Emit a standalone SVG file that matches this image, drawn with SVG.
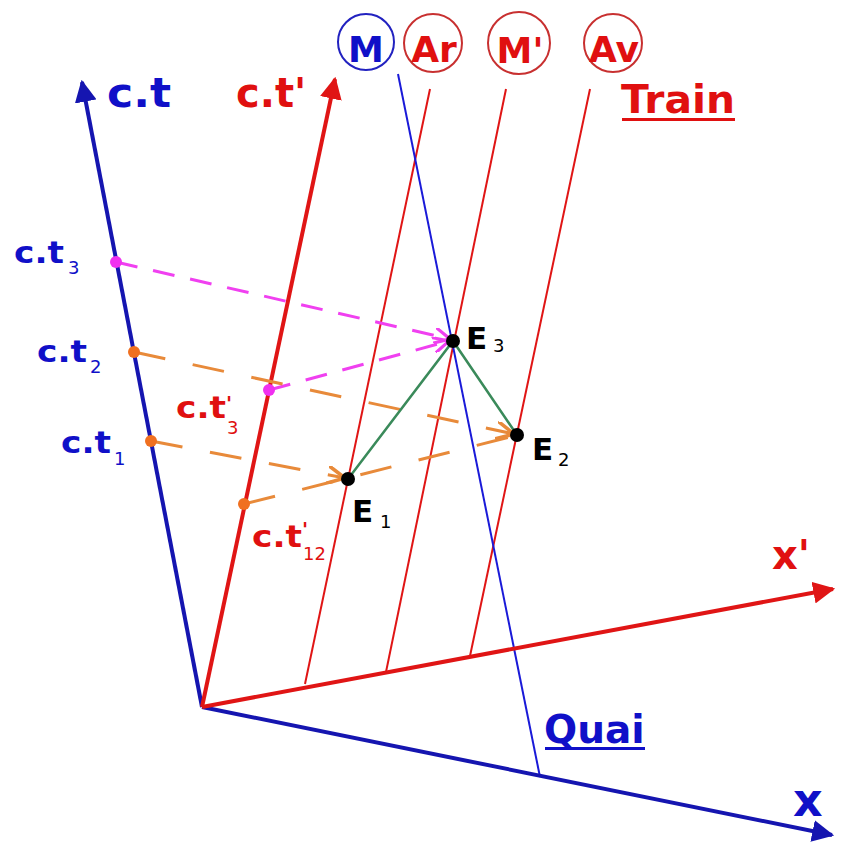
<svg xmlns="http://www.w3.org/2000/svg" width="841" height="846" viewBox="0 0 841 846">
<defs>
<style>
.lbl{font-family:"DejaVu Sans","Verdana",sans-serif;font-weight:bold}
.sub{font-family:"DejaVu Sans","Verdana",sans-serif;font-weight:normal}
.blue{fill:#1010c8}
.red{fill:#e01010}
.blk{fill:#000}
.axb{stroke:#1515b0;stroke-width:4;fill:none}
.axr{stroke:#e01515;stroke-width:4;fill:none}
.wl{stroke:#e01515;stroke-width:2;fill:none}
.dm{stroke:#f040f0;stroke-width:3;stroke-dasharray:22 16;fill:none}
.do{stroke:#e88a3a;stroke-width:3;stroke-dasharray:32 28;fill:none}
</style>
<marker id="ab" viewBox="0 0 10 10" refX="9" refY="5" markerWidth="22" markerHeight="22" markerUnits="userSpaceOnUse" orient="auto"><path d="M0,0 L10,5 L0,10 Z" fill="#1515b0"/></marker>
<marker id="ar" viewBox="0 0 10 10" refX="9" refY="5" markerWidth="22" markerHeight="22" markerUnits="userSpaceOnUse" orient="auto"><path d="M0,0 L10,5 L0,10 Z" fill="#e01515"/></marker>
<marker id="vm" viewBox="0 0 10 10" refX="10" refY="5" markerWidth="16" markerHeight="16" markerUnits="userSpaceOnUse" orient="auto"><path d="M0,0 L10,5 L0,10" fill="none" stroke="#f040f0" stroke-width="2"/></marker>
<marker id="vo" viewBox="0 0 10 10" refX="10" refY="5" markerWidth="18" markerHeight="18" markerUnits="userSpaceOnUse" orient="auto"><path d="M0,0 L10,5 L0,10" fill="none" stroke="#e88a3a" stroke-width="2"/></marker>
</defs>
<rect width="841" height="846" fill="#fff"/>

<g id="connectors">
  <line class="wl" x1="305" y1="684" x2="430" y2="89"/>
  <line class="wl" x1="386" y1="672" x2="506" y2="89"/>
  <line class="wl" x1="470" y1="656" x2="590" y2="89"/>
  <line x1="398" y1="74" x2="540" y2="777" stroke="#1a1ad8" stroke-width="2"/>
  <line class="axb" x1="202" y1="707" x2="82" y2="82" marker-end="url(#ab)"/>
  <line class="axb" x1="202" y1="707" x2="832" y2="835" marker-end="url(#ab)"/>
  <line class="axr" x1="202" y1="707" x2="335" y2="79" marker-end="url(#ar)"/>
  <line class="axr" x1="202" y1="707" x2="833" y2="589" marker-end="url(#ar)"/>
  <line class="dm" x1="116" y1="262" x2="450" y2="339" marker-end="url(#vm)"/>
  <line class="dm" x1="269" y1="390" x2="449" y2="341" marker-end="url(#vm)"/>
  <line class="do" x1="134" y1="352" x2="514" y2="434" marker-end="url(#vo)"/>
  <line class="do" x1="151" y1="441" x2="345" y2="478" marker-end="url(#vo)"/>
  <line class="do" x1="244" y1="504" x2="514" y2="436"/>
  <polyline points="348,479 453,341 517,435" fill="none" stroke="#3a8a5a" stroke-width="2.5"/>
</g>

<g id="dots">
  <circle cx="116" cy="262" r="6" fill="#f030f0"/>
  <circle cx="269" cy="390" r="6" fill="#f030f0"/>
  <circle cx="134" cy="352" r="6" fill="#f07020"/>
  <circle cx="151" cy="441" r="6" fill="#f07020"/>
  <circle cx="244" cy="504" r="6" fill="#f07020"/>
</g>

<g id="E1"><circle cx="348" cy="479" r="7" fill="#000"/><text class="lbl blk" x="352" y="522" font-size="31">E</text><text class="sub blk" x="380" y="528" font-size="18">1</text></g>
<g id="E2"><circle cx="517" cy="435" r="7" fill="#000"/><text class="lbl blk" x="532" y="460" font-size="31">E</text><text class="sub blk" x="558" y="466" font-size="18">2</text></g>
<g id="E3"><circle cx="453" cy="341" r="7" fill="#000"/><text class="lbl blk" x="466" y="349" font-size="31">E</text><text class="sub blk" x="493" y="352" font-size="18">3</text></g>

<g id="ct-label"><text class="lbl blue" x="107" y="107" font-size="40" textLength="64" lengthAdjust="spacingAndGlyphs">c.t</text></g>
<g id="ctp-label"><text class="lbl red" x="236" y="107" font-size="40">c.t'</text></g>

<g id="ct3"><text class="lbl blue" x="14" y="263" font-size="31" textLength="50" lengthAdjust="spacingAndGlyphs">c.t</text><text class="sub blue" x="68" y="274" font-size="18">3</text></g>
<g id="ct2"><text class="lbl blue" x="37" y="362" font-size="31" textLength="50" lengthAdjust="spacingAndGlyphs">c.t</text><text class="sub blue" x="90" y="373" font-size="18">2</text></g>
<g id="ct1"><text class="lbl blue" x="61" y="453" font-size="31" textLength="50" lengthAdjust="spacingAndGlyphs">c.t</text><text class="sub blue" x="114" y="465" font-size="18">1</text></g>
<g id="ctp3"><text class="lbl red" x="176" y="418" font-size="31" textLength="50" lengthAdjust="spacingAndGlyphs">c.t</text><text class="lbl red" x="226" y="410" font-size="20">'</text><text class="sub red" x="227" y="434" font-size="18">3</text></g>
<g id="ctp12"><text class="lbl red" x="252" y="547" font-size="31" textLength="50" lengthAdjust="spacingAndGlyphs">c.t</text><text class="lbl red" x="302" y="536" font-size="20">'</text><text class="sub red" x="303" y="560" font-size="18">12</text></g>

<g id="M"><circle cx="366" cy="42" r="28" fill="none" stroke="#2222c0" stroke-width="2"/><text class="lbl blue" x="366" y="62" font-size="36" text-anchor="middle">M</text></g>
<g id="Ar"><circle cx="433" cy="43" r="29" fill="none" stroke="#c83030" stroke-width="2"/><text class="lbl red" x="434" y="62" font-size="36" text-anchor="middle">Ar</text></g>
<g id="Mp"><circle cx="519" cy="43" r="31" fill="none" stroke="#c83030" stroke-width="2"/><text class="lbl red" x="520" y="63" font-size="36" text-anchor="middle">M'</text></g>
<g id="Av"><circle cx="613" cy="43" r="29" fill="none" stroke="#c83030" stroke-width="2"/><text class="lbl red" x="614" y="62" font-size="36" text-anchor="middle">Av</text></g>

<g id="Train"><text class="lbl red" x="621" y="113" font-size="39" textLength="114" lengthAdjust="spacingAndGlyphs">Train</text><rect x="622" y="118" width="113" height="3" fill="#e01010"/></g>
<g id="Quai"><text class="lbl blue" x="544" y="743" font-size="39">Quai</text><rect x="545" y="747" width="100" height="3" fill="#1010c8"/></g>
<g id="xp"><text class="lbl red" x="772" y="569" font-size="40">x'</text></g>
<g id="x"><text class="lbl blue" x="793" y="816" font-size="46">x</text></g>
</svg>
